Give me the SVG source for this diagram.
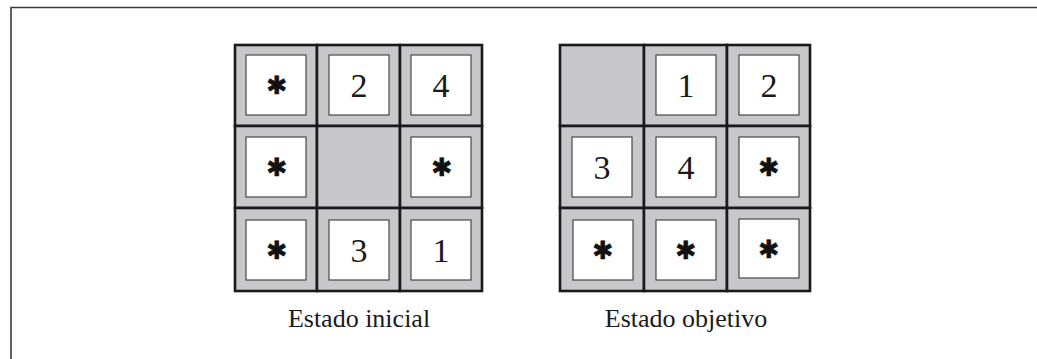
<svg xmlns="http://www.w3.org/2000/svg" width="1037" height="359" viewBox="0 0 1037 359">
<style>
.bg{fill:#ffffff}
.frame{fill:none;stroke:#3a3a3a;stroke-width:1.6}
.cell{fill:#c8c8ca;stroke:#1a1a1a;stroke-width:2.6}
.tile{fill:#ffffff;stroke:#3a3a3a;stroke-width:1.1}
.num{font-family:"Liberation Serif","Times New Roman",serif;font-size:34px;fill:#1a1a1a;text-anchor:middle}
.star{font-family:"DejaVu Sans",sans-serif;font-size:25px;fill:#111;stroke:#111;stroke-width:0.6;text-anchor:middle;dominant-baseline:central}
.lbl{font-family:"Liberation Serif","Times New Roman",serif;font-size:26px;fill:#1a1a1a;text-anchor:middle}
</style>
<rect class="bg" x="0" y="0" width="1037" height="359"/>
<g id="frame">
<path class="frame" d="M11,359 V7.5 H1037"/>
</g>

<g id="estado-inicial">
<g id="i-r1c1"><rect class="cell" x="235" y="45" width="82" height="81"/><rect class="tile" x="246" y="55" width="60" height="60"/><text class="star" x="277" y="85">✱</text></g>
<g id="i-r1c2"><rect class="cell" x="317" y="45" width="83" height="81"/><rect class="tile" x="329" y="55" width="60" height="60"/><text class="num" x="359" y="97">2</text></g>
<g id="i-r1c3"><rect class="cell" x="400" y="45" width="82" height="81"/><rect class="tile" x="411" y="55" width="60" height="60"/><text class="num" x="441" y="97">4</text></g>
<g id="i-r2c1"><rect class="cell" x="235" y="126" width="82" height="82"/><rect class="tile" x="246" y="137" width="60" height="60"/><text class="star" x="277" y="167">✱</text></g>
<g id="i-r2c2"><rect class="cell" x="317" y="126" width="83" height="82"/></g>
<g id="i-r2c3"><rect class="cell" x="400" y="126" width="82" height="82"/><rect class="tile" x="411" y="137" width="60" height="60"/><text class="star" x="442" y="167">✱</text></g>
<g id="i-r3c1"><rect class="cell" x="235" y="208" width="82" height="83"/><rect class="tile" x="246" y="220" width="60" height="60"/><text class="star" x="277" y="250">✱</text></g>
<g id="i-r3c2"><rect class="cell" x="317" y="208" width="83" height="83"/><rect class="tile" x="329" y="220" width="60" height="60"/><text class="num" x="359" y="262">3</text></g>
<g id="i-r3c3"><rect class="cell" x="400" y="208" width="82" height="83"/><rect class="tile" x="411" y="220" width="60" height="60"/><text class="num" x="441" y="262">1</text></g>
<text class="lbl" x="359" y="327">Estado inicial</text>
</g>

<g id="estado-objetivo">
<g id="o-r1c1"><rect class="cell" x="560" y="45" width="84" height="81"/></g>
<g id="o-r1c2"><rect class="cell" x="644" y="45" width="83" height="81"/><rect class="tile" x="656" y="55" width="60" height="60"/><text class="num" x="686" y="97">1</text></g>
<g id="o-r1c3"><rect class="cell" x="727" y="45" width="83" height="81"/><rect class="tile" x="739" y="55" width="60" height="60"/><text class="num" x="769" y="97">2</text></g>
<g id="o-r2c1"><rect class="cell" x="560" y="126" width="84" height="82"/><rect class="tile" x="572" y="137" width="60" height="60"/><text class="num" x="602" y="179">3</text></g>
<g id="o-r2c2"><rect class="cell" x="644" y="126" width="83" height="82"/><rect class="tile" x="656" y="137" width="60" height="60"/><text class="num" x="686" y="179">4</text></g>
<g id="o-r2c3"><rect class="cell" x="727" y="126" width="83" height="82"/><rect class="tile" x="739" y="137" width="60" height="60"/><text class="star" x="769" y="167">✱</text></g>
<g id="o-r3c1"><rect class="cell" x="560" y="208" width="84" height="83"/><rect class="tile" x="573" y="220" width="60" height="60"/><text class="star" x="603" y="250">✱</text></g>
<g id="o-r3c2"><rect class="cell" x="644" y="208" width="83" height="83"/><rect class="tile" x="656" y="220" width="60" height="60"/><text class="star" x="686" y="250">✱</text></g>
<g id="o-r3c3"><rect class="cell" x="727" y="208" width="83" height="83"/><rect class="tile" x="739" y="219" width="60" height="59"/><text class="star" x="769" y="249">✱</text></g>
<text class="lbl" x="686" y="327">Estado objetivo</text>
</g>
<g id="connectors"/>
</svg>
